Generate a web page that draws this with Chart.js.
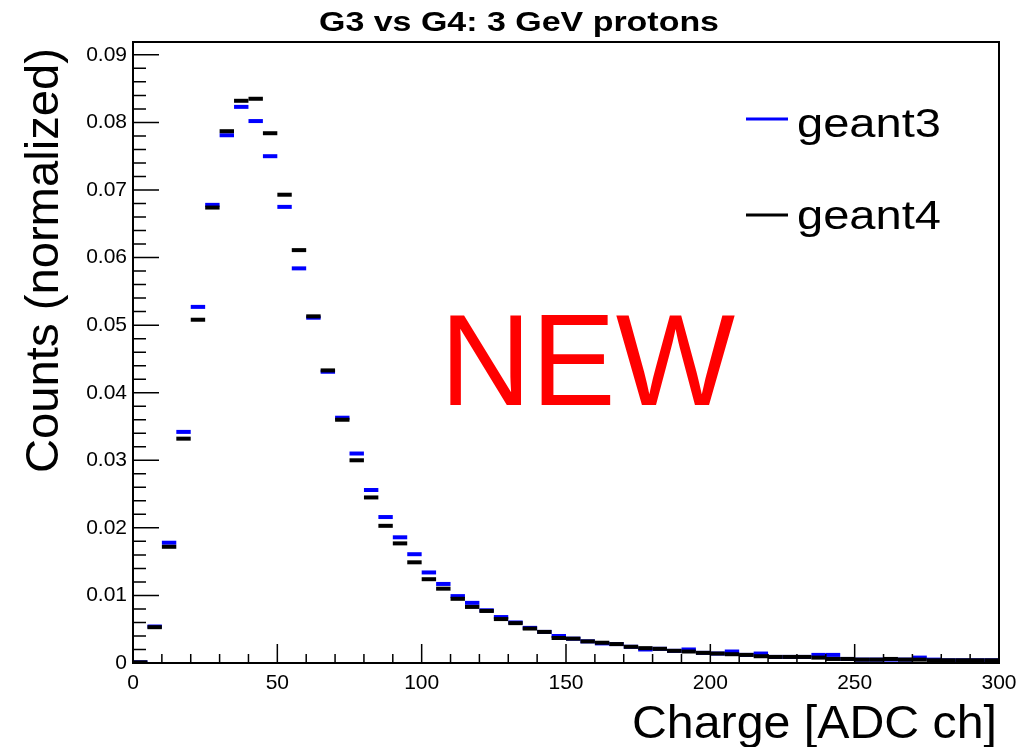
<!DOCTYPE html>
<html>
<head>
<meta charset="utf-8">
<script src="https://cdn.jsdelivr.net/npm/chart.js@4"></script>
<style>
  html, body { margin: 0; padding: 0; background: #fff; }
  #wrap { width: 1030px; height: 747px; }
</style>
</head>
<body>
<div id="wrap"><canvas id="c" width="1030" height="747"></canvas></div>
<script>
// bin centres, 5 ADC ch wide bins from 0 to 300
var binCenters = [2.5, 7.5, 12.5, 17.5, 22.5, 27.5, 32.5, 37.5, 42.5, 47.5,
    52.5, 57.5, 62.5, 67.5, 72.5, 77.5, 82.5, 87.5, 92.5, 97.5,
    102.5, 107.5, 112.5, 117.5, 122.5, 127.5, 132.5, 137.5, 142.5, 147.5,
    152.5, 157.5, 162.5, 167.5, 172.5, 177.5, 182.5, 187.5, 192.5, 197.5,
    202.5, 207.5, 212.5, 217.5, 222.5, 227.5, 232.5, 237.5, 242.5, 247.5,
    252.5, 257.5, 262.5, 267.5, 272.5, 277.5, 282.5, 287.5, 292.5, 297.5];

var geant3 = [0.0001, 0.0054, 0.0178, 0.0342, 0.0527, 0.0678, 0.0781, 0.0823, 0.0802, 0.0750,
    0.0675, 0.0584, 0.0511, 0.0431, 0.0363, 0.0310, 0.0256, 0.0216, 0.0186, 0.0161,
    0.0134, 0.0117, 0.0099, 0.0089, 0.0078, 0.0068, 0.0060, 0.0052, 0.0046, 0.0040,
    0.0036, 0.0032, 0.0029, 0.0028, 0.0024, 0.0020, 0.0021, 0.0018, 0.0020, 0.0015,
    0.0014, 0.0017, 0.0012, 0.0014, 0.0009, 0.0009, 0.0009, 0.0012, 0.0012, 0.0006,
    0.0005, 0.0005, 0.0005, 0.0005, 0.0008, 0.0005, 0.0004, 0.0004, 0.0004, 0.0004];

var geant4 = [0.0001, 0.0053, 0.0172, 0.0332, 0.0508, 0.0674, 0.0787, 0.0832, 0.0835, 0.0784,
    0.0693, 0.0611, 0.0513, 0.0433, 0.0360, 0.0300, 0.0245, 0.0203, 0.0177, 0.0149,
    0.0124, 0.0110, 0.0095, 0.0083, 0.0077, 0.0065, 0.0059, 0.0051, 0.0046, 0.0037,
    0.0036, 0.0032, 0.0030, 0.0028, 0.0024, 0.0022, 0.0021, 0.0018, 0.0017, 0.0015,
    0.0014, 0.0013, 0.0012, 0.0010, 0.0009, 0.0009, 0.0009, 0.0008, 0.0006, 0.0006,
    0.0005, 0.0005, 0.0006, 0.0005, 0.0005, 0.0004, 0.0004, 0.0004, 0.0004, 0.0004];

var xTickValues = [0, 50, 100, 150, 200, 250, 300];
var xTickLabels = ['0', '50', '100', '150', '200', '250', '300'];
var yTickValues = [0, 0.01, 0.02, 0.03, 0.04, 0.05, 0.06, 0.07, 0.08, 0.09];
var yTickLabels = ['0', '0.01', '0.02', '0.03', '0.04', '0.05', '0.06', '0.07', '0.08', '0.09'];

var FONT = "'Liberation Sans', Arial, Helvetica, sans-serif";

function toPoints(values) {
    return values.map(function (v, i) { return { x: binCenters[i], y: v }; });
}

// text squeezed/stretched to the width it has in the picture
function fitText(ctx, text, x, y, font, align, width, color) {
    ctx.save();
    ctx.font = font;
    ctx.fillStyle = color || '#000';
    ctx.textBaseline = 'alphabetic';
    ctx.textAlign = align;
    var w = ctx.measureText(text).width;
    ctx.translate(x, y);
    ctx.scale(width / w, 1);
    ctx.fillText(text, 0, 0);
    ctx.restore();
}

var rootDecor = {
    id: 'rootDecor',
    afterDraw: function (chart) {
        var ctx = chart.ctx;
        var a = chart.chartArea;
        var xs = chart.scales.x, ys = chart.scales.y;
        ctx.save();
        ctx.strokeStyle = '#000';
        ctx.lineWidth = 2;
        ctx.strokeRect(a.left, a.top, a.right - a.left, a.bottom - a.top);

        // inward ticks, y axis
        ctx.lineWidth = 1.5;
        ctx.beginPath();
        for (var i = 0; i < yTickValues.length; i++) {
            var py = ys.getPixelForValue(yTickValues[i]);
            ctx.moveTo(a.left, py); ctx.lineTo(a.left + 26, py);
            for (var k = 1; k < 5; k++) {
                var mv = yTickValues[i] + k * 0.002;
                if (mv > ys.max) break;
                var pm = ys.getPixelForValue(mv);
                ctx.moveTo(a.left, pm); ctx.lineTo(a.left + 13, pm);
            }
        }
        // inward ticks, x axis
        for (var j = 0; j < xTickValues.length; j++) {
            var px = xs.getPixelForValue(xTickValues[j]);
            ctx.moveTo(px, a.bottom); ctx.lineTo(px, a.bottom - 19);
            if (j < xTickValues.length - 1) {
                for (var m = 1; m < 5; m++) {
                    var qx = xs.getPixelForValue(xTickValues[j] + m * 10);
                    ctx.moveTo(qx, a.bottom); ctx.lineTo(qx, a.bottom - 9);
                }
            }
        }
        ctx.stroke();

        // title
        fitText(ctx, 'G3 vs G4: 3 GeV protons', 519, 31, 'bold 27px ' + FONT, 'center', 400);

        // axis titles
        fitText(ctx, 'Charge [ADC ch]', 997, 738, '46px ' + FONT, 'right', 365);
        ctx.save();
        ctx.translate(58, 48);
        ctx.rotate(-Math.PI / 2);
        fitText(ctx, 'Counts (normalized)', 0, 0, '46px ' + FONT, 'right', 425);
        ctx.restore();

        // legend
        ctx.lineWidth = 3;
        ctx.strokeStyle = '#0000ff';
        ctx.beginPath(); ctx.moveTo(746, 119); ctx.lineTo(788, 119); ctx.stroke();
        ctx.strokeStyle = '#000';
        ctx.beginPath(); ctx.moveTo(746, 215); ctx.lineTo(788, 215); ctx.stroke();
        fitText(ctx, 'geant3', 797, 137, '40px ' + FONT, 'left', 144);
        fitText(ctx, 'geant4', 797, 229, '40px ' + FONT, 'left', 144);

        fitText(ctx, 'NEW', 440, 405, '130px ' + FONT, 'left', 295, '#ff0000');
        ctx.restore();
    }
};

new Chart(document.getElementById('c'), {
    type: 'line',
    data: {
        datasets: [{
            label: 'geant3',
            data: toPoints(geant3),
            showLine: false,
            pointStyle: 'line',
            pointRadius: 7.2,
            pointHoverRadius: 7.2,
            pointBorderWidth: 4,
            pointBorderColor: '#0000ff',
            pointBackgroundColor: '#0000ff',
            order: 2
        }, {
            label: 'geant4',
            data: toPoints(geant4),
            showLine: false,
            pointStyle: 'line',
            pointRadius: 7.2,
            pointHoverRadius: 7.2,
            pointBorderWidth: 4,
            pointBorderColor: '#000000',
            pointBackgroundColor: '#000000',
            order: 1
        }]
    },
    options: {
        responsive: false,
        animation: false,
        layout: { padding: { top: 42, right: 31, left: 0, bottom: 0 } },
        plugins: {
            legend: { display: false },
            title: { display: false },
            tooltip: { enabled: false }
        },
        scales: {
            x: {
                type: 'linear',
                min: 0,
                max: 300,
                grid: { display: false, drawTicks: false },
                border: { display: false },
                afterBuildTicks: function (s) { s.ticks = xTickValues.map(function (v) { return { value: v }; }); },
                afterFit: function (s) { s.height = 84; },
                ticks: {
                    padding: 8,
                    maxRotation: 0,
                    autoSkip: false,
                    color: '#000',
                    font: { family: FONT, size: 21 },
                    callback: function (v, i) { return xTickLabels[i]; }
                }
            },
            y: {
                type: 'linear',
                min: 0,
                max: 0.0919,
                grid: { display: false, drawTicks: false },
                border: { display: false },
                afterBuildTicks: function (s) { s.ticks = yTickValues.map(function (v) { return { value: v }; }); },
                afterFit: function (s) { s.width = 133; },
                ticks: {
                    padding: 6,
                    autoSkip: false,
                    color: '#000',
                    font: { family: FONT, size: 21 },
                    callback: function (v, i) { return yTickLabels[i]; }
                }
            }
        }
    },
    plugins: [rootDecor]
});
</script>
</body>
</html>
